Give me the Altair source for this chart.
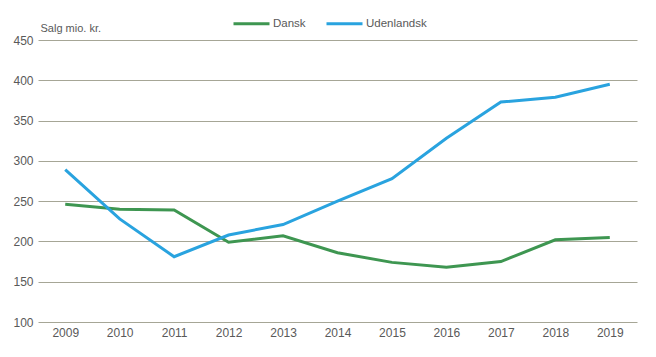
import altair as alt
import pandas as pd

years = ["2009", "2010", "2011", "2012", "2013", "2014", "2015", "2016", "2017", "2018", "2019"]
dansk = [246, 240, 239, 199, 207, 186, 174, 168, 175, 202, 205]
udenlandsk = [289, 228, 181, 208, 221, 250, 278, 328, 373, 379, 395]
series = ["Dansk", "Udenlandsk"]
colors = ["#3E9651", "#29A3DF"]

df = pd.DataFrame({
    "year": years * 2,
    "value": dansk + udenlandsk,
    "series": [series[0]] * len(years) + [series[1]] * len(years),
})

font = "Liberation Sans"
txt = "#595959"

chart = alt.Chart(df).mark_line(strokeWidth=3).encode(
    x=alt.X("year:N", sort=years, title=None,
            scale=alt.Scale(paddingInner=0, paddingOuter=0.5),
            axis=alt.Axis(labelAngle=0, ticks=False, domain=False, grid=False,
                          labelPadding=5, labelFont=font, labelFontSize=12, labelColor=txt)),
    y=alt.Y("value:Q", title="Salg mio. kr.",
            scale=alt.Scale(domain=[100, 450], nice=False, zero=False),
            axis=alt.Axis(values=[100, 150, 200, 250, 300, 350, 400, 450], ticks=False, domain=False,
                          gridColor="#A6A696", gridWidth=1, labelPadding=5,
                          labelFont=font, labelFontSize=12, labelColor=txt,
                          titleAngle=0, titleAlign="left", titleBaseline="alphabetic",
                          titleX=2, titleY=-9, titleFont=font, titleFontSize=11,
                          titleFontWeight="normal", titleColor=txt)),
    color=alt.Color("series:N", scale=alt.Scale(domain=series, range=colors),
                    legend=alt.Legend(title=None, orient="none", legendX=194, legendY=-36,
                                      direction="horizontal", symbolType="stroke",
                                      symbolSize=1296, symbolStrokeWidth=3, labelOffset=2,
                                      columnPadding=14, labelFont=font, labelFontSize=11.5,
                                      labelColor=txt)),
).properties(
    width=599, height=282,
    padding={"left": 30, "top": 32, "right": 10, "bottom": 30},
    autosize=alt.AutoSizeParams(type="none"),
).configure_view(stroke=None)

chart.save("out.html", embed_options={"renderer": "svg", "actions": False})
